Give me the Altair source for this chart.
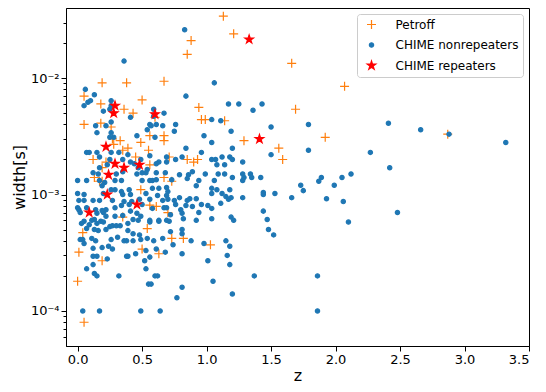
import altair as alt
import pandas as pd

# ---------------- data ----------------
petroff_z = [1.13, 1.21, 0.88, 0.85, 0.19, 0.38, 0.67, 0.05, 0.50, 0.18,
             0.36, 0.43, 0.94, 0.60, 0.96, 0.99, 1.14, 0.05, 0.18, 0.26,
             0.56, 0.67, 0.67, 0.27, 0.33, 0.49, 0.39, 0.35, 0.55, 0.45,
             0.71, 0.85, 0.90, 0.93, 0.12, 0.22, 0.19, 0.56, 0.13, 0.17,
             0.19, 0.49, 0.67, 0.73, 0.56, 0.61, 0.35, 0.70, 0.54, 0.04,
             0.73, 0.82, 1.03, 0.50, 0.01, 0.63, 0.19, 0.00, 0.05, 1.66,
             2.07, 1.69, 1.92, 2.87, 1.56, 1.59, 1.29, 0.28]
petroff_w = [3.4e-2, 2.4e-2, 2.1e-2, 1.6e-2, 9.1e-3, 9.1e-3, 9.4e-3, 7.0e-3, 6.5e-3, 6.0e-3,
             5.4e-3, 5.0e-3, 5.6e-3, 4.6e-3, 4.4e-3, 4.4e-3, 4.3e-3, 4.0e-3, 4.1e-3, 3.8e-3,
             3.2e-3, 3.2e-3, 2.9e-3, 3.0e-3, 2.9e-3, 2.8e-3, 2.5e-3, 2.4e-3, 2.4e-3, 2.1e-3,
             2.1e-3, 2.0e-3, 1.9e-3, 2.0e-3, 2.0e-3, 1.9e-3, 1.7e-3, 1.8e-3, 1.4e-3, 1.3e-3,
             1.3e-3, 1.1e-3, 1.4e-3, 1.3e-3, 8.1e-4, 7.9e-4, 6.4e-4, 7.0e-4, 5.1e-4, 4.7e-4,
             4.2e-4, 4.2e-4, 3.7e-4, 3.4e-4, 3.2e-4, 3.1e-4, 2.7e-4, 1.8e-4, 8.0e-5, 1.34e-2,
             8.5e-3, 5.4e-3, 3.1e-3, 3.3e-3, 2.5e-3, 2.0e-3, 2.9e-3, 2.7e-3]

nonrep_z = [
    0.83, 0.36, 0.06, 1.06, 0.84, 0.13, 0.08, 0.10, 0.05, 0.26,
    0.20, 0.25, 0.26, 0.41, 0.59, 0.67, 1.17, 1.25, 1.36, 1.04,
    1.11, 0.26, 0.14, 0.22, 0.56, 0.57, 0.61, 0.66, 0.76, 0.54,
    0.59, 0.75, 0.15, 0.26, 0.28, 0.25, 0.46, 0.60, 0.98, 1.43,
    1.50, 1.79, 2.41, 2.66, 2.88, 3.32, 1.19, 1.50, 1.79, 2.27,
    2.42, 1.34, 1.35, 1.42, 1.73, 1.75, 1.87, 1.89, 2.05, 2.12,
    1.99, 1.44, 1.44, 1.53, 1.66, 1.93, 2.06, 1.44, 1.47, 1.48,
    1.52, 2.10, 2.48, 1.37, 1.86, 1.86, 0.07, 0.12, 0.13, 0.15,
    0.32, 0.52, 0.53, 0.55, 0.57, 0.60, 0.62, 0.77, 0.81, 1.01,
    1.05, 1.18, 1.20, 0.04, 0.17, 0.49, 0.64, 0.84, 1.04, 1.20,
    0.07, 0.09, 0.15, 0.26, 0.32, 0.39, 0.56, 0.69, 0.76, 0.81,
    1.04, 1.07, 1.12, 1.18, 1.20, 1.28, 0.17, 0.25, 0.35, 0.41,
    0.49, 0.63, 0.69, 0.23, 0.44, 0.61, 1.08, 1.14, 0.17, 0.47,
    0.54, 0.12, 0.16, 0.30, 0.35, 0.46, 0.50, 0.53, 0.61, 0.68,
    0.79, 0.86, 0.89, 0.99, 1.09, 1.14, 1.28, 0.00, 0.07, 0.17,
    0.21, 0.29, 0.34, 0.50, 0.56, 0.58, 0.61, 0.73, 0.85, 0.94,
    1.06, 1.20, 1.28, 1.29, 0.19, 0.26, 0.29, 0.34, 0.40, 0.58,
    0.63, 0.69, 0.70, 0.92, 1.04, 1.08, 1.12, 1.18, 0.00, 0.05,
    0.20, 0.35, 0.41, 0.53, 0.62, 0.69, 0.79, 0.87, 0.92, 1.04,
    1.15, 1.28, 1.19, 0.01, 0.05, 0.12, 0.17, 0.27, 0.36, 0.42,
    0.48, 0.56, 0.66, 0.70, 0.75, 0.85, 0.96, 1.04, 1.11, 1.17,
    0.00, 0.01, 0.07, 0.14, 0.22, 0.29, 0.34, 0.40, 0.50, 0.58,
    0.67, 0.69, 0.76, 0.80, 0.89, 0.02, 0.15, 0.19, 0.20, 0.22,
    0.29, 0.35, 0.41, 0.46, 0.49, 0.56, 0.63, 0.69, 0.71, 0.81,
    0.82, 0.92, 1.04, 1.19, 1.21, 0.03, 0.05, 0.09, 0.11, 0.13,
    0.15, 0.18, 0.20, 0.25, 0.27, 0.30, 0.33, 0.39, 0.43, 0.47,
    0.56, 0.63, 0.07, 0.13, 0.16, 0.22, 0.31, 0.39, 0.43, 0.48,
    0.54, 0.66, 0.81, 0.81, 0.88, 0.98, 1.15, 0.02, 0.04, 0.11,
    0.14, 0.26, 0.36, 0.38, 0.43, 0.49, 0.59, 0.05, 0.12, 0.19,
    0.24, 0.27, 0.38, 0.39, 0.45, 0.53, 0.61, 0.68, 0.74, 1.18,
    0.12, 0.15, 0.23, 0.56, 0.81, 0.84, 0.94, 1.01, 0.72, 0.72,
    1.16, 0.96]
nonrep_w = [
    2.6e-2, 1.4e-2, 8.0e-3, 9.1e-3, 7.0e-3, 7.2e-3, 6.2e-3, 6.4e-3, 5.8e-3, 6.4e-3,
    5.2e-3, 5.4e-3, 5.8e-3, 4.6e-3, 5.4e-3, 5.0e-3, 6.0e-3, 6.0e-3, 5.3e-3, 4.4e-3,
    4.3e-3, 4.2e-3, 3.9e-3, 3.9e-3, 4.0e-3, 3.9e-3, 4.0e-3, 3.9e-3, 4.0e-3, 3.6e-3,
    4.7e-3, 3.5e-3, 3.4e-3, 3.4e-3, 3.1e-3, 3.1e-3, 3.2e-3, 3.1e-3, 3.2e-3, 6.0e-3,
    3.8e-3, 4.0e-3, 4.1e-3, 3.6e-3, 3.3e-3, 2.8e-3, 3.5e-3, 2.2e-3, 2.4e-3, 2.3e-3,
    1.7e-3, 1.5e-3, 1.4e-3, 1.4e-3, 1.2e-3, 1.08e-3, 1.3e-3, 1.4e-3, 1.4e-3, 1.5e-3,
    1.2e-3, 1.04e-3, 1.0e-3, 1.02e-3, 9.4e-4, 9.2e-4, 8.7e-4, 7.2e-4, 6.1e-4, 5.0e-4,
    4.5e-4, 5.8e-4, 7.0e-4, 2.0e-4, 2.0e-4, 1.0e-4, 2.3e-4, 2.5e-4, 2.1e-4, 2.0e-4,
    2.0e-4, 2.7e-4, 2.3e-4, 1.7e-4, 1.7e-4, 2.0e-4, 2.0e-4, 1.3e-4, 1.6e-4, 2.7e-4,
    1.8e-4, 2.5e-4, 1.4e-4, 1.0e-4, 1.0e-4, 1.0e-4, 1.0e-4, 2.5e-3, 2.8e-3, 2.5e-3,
    2.3e-3, 2.3e-3, 2.3e-3, 2.3e-3, 2.3e-3, 2.2e-3, 2.15e-3, 2.1e-3, 2.0e-3, 2.1e-3,
    2.0e-3, 2.0e-3, 2.1e-3, 2.1e-3, 2.0e-3, 1.9e-3, 2.1e-3, 2.0e-3, 2.0e-3, 1.9e-3,
    2.0e-3, 1.9e-3, 1.9e-3, 1.8e-3, 1.84e-3, 1.84e-3, 1.8e-3, 1.8e-3, 1.7e-3, 1.7e-3,
    1.64e-3, 1.54e-3, 1.5e-3, 1.5e-3, 1.57e-3, 1.5e-3, 1.54e-3, 1.54e-3, 1.54e-3, 1.54e-3,
    1.48e-3, 1.48e-3, 1.57e-3, 1.5e-3, 1.5e-3, 1.5e-3, 1.5e-3, 1.32e-3, 1.32e-3, 1.32e-3,
    1.27e-3, 1.32e-3, 1.32e-3, 1.32e-3, 1.32e-3, 1.32e-3, 1.34e-3, 1.34e-3, 1.37e-3, 1.32e-3,
    1.32e-3, 1.4e-3, 1.32e-3, 1.4e-3, 1.19e-3, 1.1e-3, 1.1e-3, 1.06e-3, 1.1e-3, 1.13e-3,
    1.13e-3, 1.15e-3, 1.06e-3, 1.19e-3, 1.13e-3, 1.1e-3, 1.02e-3, 1.1e-3, 1.02e-3, 1.0e-3,
    1.02e-3, 1.0e-3, 1.0e-3, 1.02e-3, 9.8e-4, 9.8e-4, 9.4e-4, 9.2e-4, 9.2e-4, 1.02e-3,
    9.6e-4, 9.4e-4, 9.4e-4, 8.9e-4, 8.9e-4, 8.9e-4, 8.9e-4, 8.9e-4, 8.7e-4, 8.7e-4,
    9.1e-4, 9.1e-4, 8.9e-4, 9.1e-4, 8.9e-4, 8.9e-4, 8.2e-4, 7.6e-4, 8.4e-4, 9.1e-4,
    7.7e-4, 7.4e-4, 7.7e-4, 7.4e-4, 7.4e-4, 7.7e-4, 8.05e-4, 8.2e-4, 8.2e-4, 7.6e-4,
    7.7e-4, 7.7e-4, 8.2e-4, 7.4e-4, 7.9e-4, 7.0e-4, 6.9e-4, 7.3e-4, 7.0e-4, 6.5e-4,
    6.5e-4, 6.6e-4, 7.2e-4, 6.9e-4, 6.5e-4, 6.0e-4, 6.0e-4, 6.0e-4, 5.9e-4, 6.9e-4,
    6.2e-4, 6.0e-4, 6.2e-4, 6.4e-4, 6.0e-4, 5.65e-4, 5.9e-4, 5.5e-4, 6.0e-4, 6.1e-4,
    5.65e-4, 5.9e-4, 5.8e-4, 5.3e-4, 5.4e-4, 5.4e-4, 5.4e-4, 5.65e-4, 6.1e-4, 6.0e-4,
    5.8e-4, 5.9e-4, 5.1e-4, 5.0e-4, 4.9e-4, 5.0e-4, 4.3e-4, 4.9e-4, 4.6e-4, 4.5e-4,
    4.2e-4, 4.2e-4, 5.0e-4, 4.6e-4, 4.0e-4, 3.8e-4, 4.0e-4, 4.1e-4, 4.1e-4, 4.2e-4,
    4.0e-4, 4.1e-4, 4.0e-4, 4.0e-4, 4.0e-4, 4.1e-4, 4.0e-4, 3.8e-4, 3.45e-4, 3.5e-4,
    3.6e-4, 3.4e-4, 2.95e-4, 2.95e-4, 3.1e-4, 3.3e-4, 3.4e-4, 3.2e-4, 3.7e-4, 3.6e-4,
    2.95e-4, 2.95e-4, 2.8e-4, 2.9e-4, 3.1e-4, 8.05e-4, 7.0e-4, 8.05e-4, 6.7e-4, 4.8e-4,
    3.0e-4, 2.3e-3]

rep_z = [1.33, 1.41, 0.29, 0.28, 0.60, 0.22, 0.29, 0.36, 0.48, 0.24, 0.23, 0.46, 0.09]
rep_w = [2.15e-2, 3.0e-3, 5.8e-3, 5.0e-3, 4.9e-3, 2.57e-3, 1.84e-3, 1.70e-3, 1.80e-3,
         1.48e-3, 1.0e-3, 8.2e-4, 7.0e-4]

series_names = ["Petroff", "CHIME nonrepeaters", "CHIME repeaters"]
stroke_colors = ["#ff7f0e", "#1f77b4", "#ff0000"]
fill_colors = ["rgba(0,0,0,0)", "#1f77b4", "#ff0000"]

x_ticks = [0.0, 0.5, 1.0, 1.5, 2.0, 2.5, 3.0, 3.5]
y_major = [1e-4, 1e-3, 1e-2]
y_minor = [6e-5, 7e-5, 8e-5, 9e-5,
           2e-4, 3e-4, 4e-4, 5e-4, 6e-4, 7e-4, 8e-4, 9e-4,
           2e-3, 3e-3, 4e-3, 5e-3, 6e-3, 7e-3, 8e-3, 9e-3,
           2e-2, 3e-2]

# ---------------- marker shapes ----------------
PLUS = "M-1,0L1,0M0,-1L0,1"
DOT = "M0.48,0A0.48,0.48 0 1,1 -0.48,0A0.48,0.48 0 1,1 0.48,0Z"
STAR = ("M0,-1L0.225,-0.309L0.951,-0.309L0.363,0.118L0.588,0.809L0,0.382"
        "L-0.588,0.809L-0.363,0.118L-0.951,-0.309L-0.225,-0.309Z")

frames = []
for name, zs, ws in [(series_names[0], petroff_z, petroff_w),
                     (series_names[1], nonrep_z, nonrep_w),
                     (series_names[2], rep_z, rep_w)]:
    frames.append(pd.DataFrame({"z": zs, "width": ws, "series": name}))
df = pd.concat(frames, ignore_index=True)

is_major = ("abs(log(datum.value)/LN10 - round(log(datum.value)/LN10)) < 1e-6")
label_expr = ("abs(log(datum.value)/LN10 + 2) < 1e-6 ? '10⁻²' : "
              "abs(log(datum.value)/LN10 + 3) < 1e-6 ? '10⁻³' : "
              "abs(log(datum.value)/LN10 + 4) < 1e-6 ? '10⁻⁴' : ''")

legend = alt.Legend(title=None, orient="top-right", offset=6, padding=4.5,
                    fillColor="white", strokeColor="#cccccc", cornerRadius=3,
                    labelFontSize=12, labelFont="DejaVu Sans", labelColor="black",
                    symbolSize=81, symbolStrokeWidth=1.2, rowPadding=7.5,
                    labelOffset=18, symbolOffset=4, labelLimit=300)

chart = alt.Chart(df).mark_point(size=81, strokeWidth=1.2, opacity=1).encode(
    x=alt.X("z:Q",
            scale=alt.Scale(domain=[-0.09, 3.5], nice=False, zero=False),
            axis=alt.Axis(values=x_ticks, format=".1f", title="z",
                          tickSize=5, labelPadding=2, titlePadding=1)),
    y=alt.Y("width:Q",
            scale=alt.Scale(type="log", domain=[5e-5, 0.04], nice=False),
            axis=alt.Axis(values=sorted(y_major + y_minor), labelExpr=label_expr,
                          labelOverlap=False, labelFlush=False,
                          tickSize={"condition": {"test": is_major, "value": 5}, "value": 3},
                          title="width[s]", labelPadding=2, titlePadding=3)),
    shape=alt.Shape("series:N", scale=alt.Scale(domain=series_names, range=[PLUS, DOT, STAR]),
                    legend=legend),
    fill=alt.Fill("series:N", scale=alt.Scale(domain=series_names, range=fill_colors),
                  legend=legend),
    stroke=alt.Stroke("series:N", scale=alt.Scale(domain=series_names, range=stroke_colors),
                      legend=legend),
).properties(
    width=463, height=338,
    autosize=alt.AutoSizeParams(type="none"),
    padding={"left": 58, "top": 0, "right": 9, "bottom": 38},
).configure_view(
    stroke="black", strokeWidth=1
).configure_axis(
    grid=False, domainColor="black", tickColor="black", labelColor="black",
    titleColor="black", labelFont="DejaVu Sans", titleFont="DejaVu Sans",
    labelFontSize=13, titleFontSize=16, titleFontWeight="normal",
    tickWidth=1, domainWidth=1
)

chart.save("out.html", embed_options={"renderer": "svg", "actions": False})
